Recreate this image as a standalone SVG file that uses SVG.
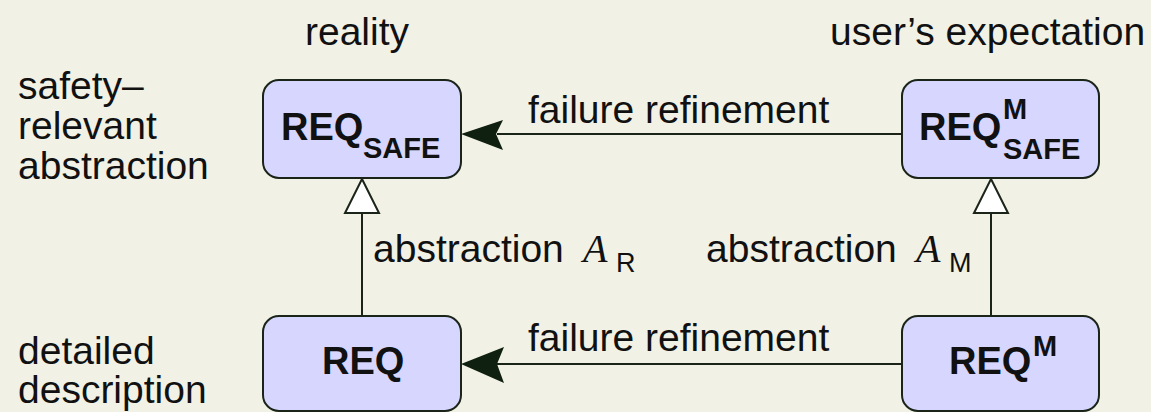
<svg xmlns="http://www.w3.org/2000/svg" width="1151" height="412" viewBox="0 0 1151 412">
<style>
.t{font-family:"Liberation Sans",Arial,sans-serif;font-size:39px;fill:#111}
.b{font-family:"Liberation Sans",Arial,sans-serif;font-size:38px;font-weight:bold;fill:#111}
.s{font-family:"Liberation Sans",Arial,sans-serif;font-size:29px;font-weight:bold;fill:#111}
.m{font-family:"Liberation Serif","Times New Roman",serif;font-size:40px;font-style:italic;fill:#111}
.r{font-family:"Liberation Sans",Arial,sans-serif;font-size:27px;fill:#111}
.box{fill:#d6d6ff;stroke:#1a2418;stroke-width:2}
.ln{stroke:#1a2418;stroke-width:2;fill:none}
</style>
<defs>
<marker id="fa" viewBox="0 0 42 32" refX="0" refY="16" markerWidth="42" markerHeight="32" markerUnits="userSpaceOnUse" orient="auto-start-reverse">
<path d="M0,16 L42,0 L35,16 L42,32 Z" fill="#102010"/>
</marker>
<marker id="ha" viewBox="0 0 36 36" refX="0" refY="18" markerWidth="36" markerHeight="36" markerUnits="userSpaceOnUse" orient="auto-start-reverse">
<path d="M1,18 L34,1 L34,35 Z" fill="#fff" stroke="#1a2418" stroke-width="2"/>
</marker>
</defs>
<rect width="1151" height="412" fill="#f2f1e6"/>
<g id="labels">
<text class="t" x="305" y="45">reality</text>
<text class="t" x="830" y="45">user’s expectation</text>
<text class="t" x="18" y="99">safety–</text>
<text class="t" x="18" y="139">relevant</text>
<text class="t" x="18" y="179">abstraction</text>
<text class="t" x="18" y="364">detailed</text>
<text class="t" x="18" y="403">description</text>
</g>
<g id="connectors">
<line class="ln" x1="902" y1="134" x2="497" y2="134"/>
<path d="M461,134 L503,120 L496,134 L503,150 Z" fill="#102010"/>
<line class="ln" x1="902" y1="364" x2="497" y2="364"/>
<path d="M461,364 L504,347 L497,364 L504,383 Z" fill="#102010"/>
<line class="ln" x1="362" y1="316" x2="362" y2="213"/>
<path d="M362,179 L379,213 L345,213 Z" fill="#fff" stroke="#1a2418" stroke-width="2"/>
<line class="ln" x1="991" y1="316" x2="991" y2="213"/>
<path d="M991,179 L1008,213 L974,213 Z" fill="#fff" stroke="#1a2418" stroke-width="2"/>
<text class="t" x="528" y="123">failure refinement</text>
<text class="t" x="528" y="351">failure refinement</text>
<text class="t" x="373" y="262">abstraction</text>
<text class="m" x="583" y="262">A</text>
<text class="r" x="616" y="272">R</text>
<text class="t" x="706" y="262">abstraction</text>
<text class="m" x="916" y="262">A</text>
<text class="r" x="949" y="272">M</text>
</g>
<g id="req-safe">
<rect class="box" x="263" y="80" width="198" height="98" rx="16"/>
<text class="b" x="281" y="140">REQ</text>
<text class="s" x="363" y="158">SAFE</text>
</g>
<g id="req-m-safe">
<rect class="box" x="902" y="80" width="197" height="98" rx="16"/>
<text class="b" x="919" y="140">REQ</text>
<text class="s" x="1003" y="119">M</text>
<text class="s" x="1003" y="159">SAFE</text>
</g>
<g id="req">
<rect class="box" x="263" y="316" width="198" height="95" rx="16"/>
<text class="b" x="322" y="374">REQ</text>
</g>
<g id="req-m">
<rect class="box" x="902" y="316" width="197" height="95" rx="16"/>
<text class="b" x="949" y="374">REQ</text>
<text class="s" x="1033" y="356">M</text>
</g>
</svg>
